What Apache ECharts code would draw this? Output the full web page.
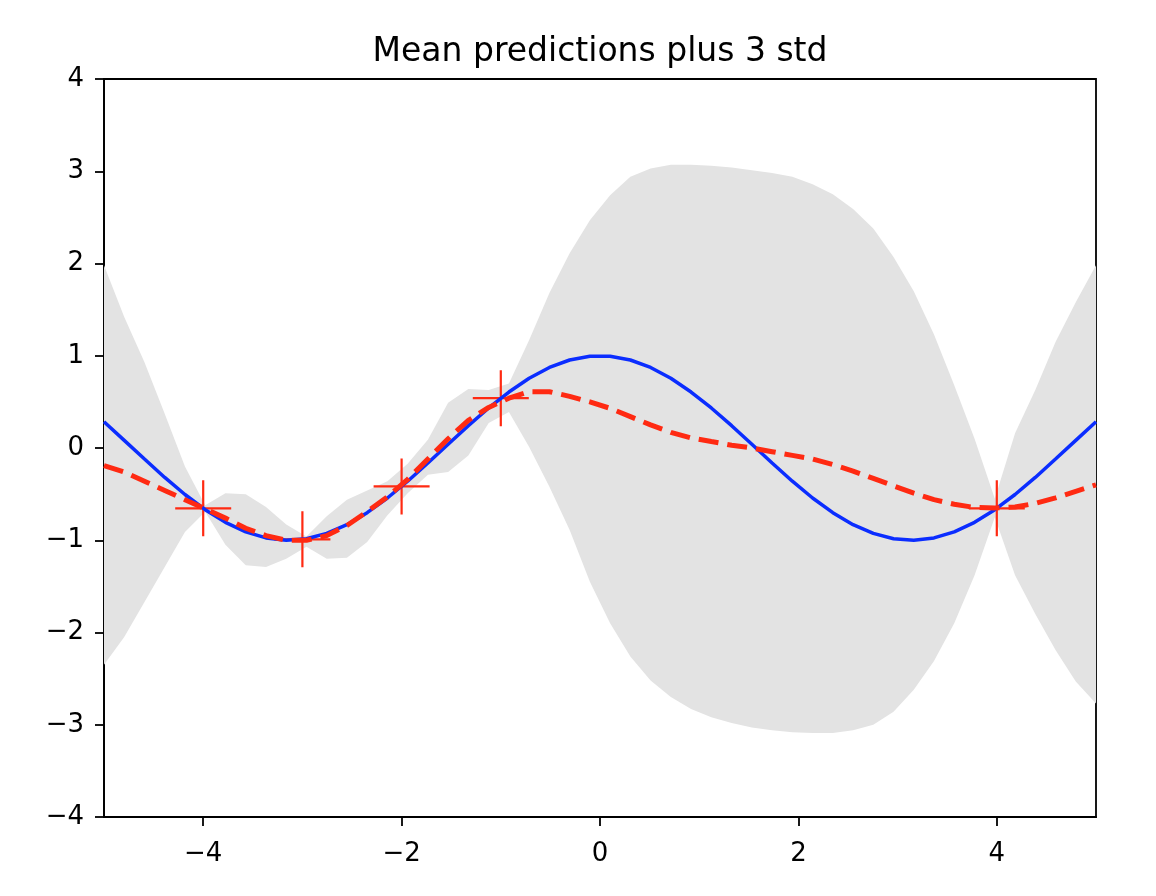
<!DOCTYPE html>
<html>
<head>
<meta charset="utf-8">
<script src="https://cdn.jsdelivr.net/npm/echarts@6/dist/echarts.min.js"></script>
<style>
html,body{margin:0;padding:0;background:#fff;}
#chart{width:1156px;height:896px;}
</style>
</head>
<body>
<div id="chart"></div>
<script>
// Sample grid along x
var xs = [-5.000, -4.796, -4.592, -4.388, -4.184, -3.980, -3.776, -3.571, -3.367, -3.163,
          -2.959, -2.755, -2.551, -2.347, -2.143, -1.939, -1.735, -1.531, -1.327, -1.122,
          -0.918, -0.714, -0.510, -0.306, -0.102, 0.102, 0.306, 0.510, 0.714, 0.918,
          1.122, 1.327, 1.531, 1.735, 1.939, 2.143, 2.347, 2.551, 2.755, 2.959,
          3.163, 3.367, 3.571, 3.776, 3.980, 4.184, 4.388, 4.592, 4.796, 5.000];
// True function (blue)
var trueY = [0.284, 0.083, -0.120, -0.319, -0.504, -0.669, -0.806, -0.909, -0.975, -1.000,
             -0.983, -0.926, -0.831, -0.701, -0.542, -0.360, -0.163, 0.040, 0.242, 0.434,
             0.607, 0.756, 0.873, 0.954, 0.995, 0.995, 0.954, 0.873, 0.756, 0.607,
             0.434, 0.242, 0.040, -0.163, -0.360, -0.542, -0.701, -0.831, -0.926, -0.983,
             -1.000, -0.975, -0.909, -0.806, -0.669, -0.504, -0.319, -0.120, 0.083, 0.284];
// Mean prediction (red dashed)
var meanY = [-0.19, -0.26, -0.36, -0.46, -0.56, -0.66, -0.76, -0.87, -0.95, -1.00,
             -1.00, -0.95, -0.84, -0.69, -0.53, -0.34, -0.12, 0.10, 0.30, 0.44,
             0.54, 0.61, 0.61, 0.56, 0.50, 0.43, 0.34, 0.25, 0.17, 0.11,
             0.07, 0.03, 0.00, -0.04, -0.08, -0.12, -0.18, -0.25, -0.33, -0.41,
             -0.49, -0.56, -0.61, -0.645, -0.65, -0.64, -0.60, -0.54, -0.47, -0.40];
// Band upper (mean + 3 std)
var upperY = [1.98, 1.42, 0.93, 0.37, -0.20, -0.62, -0.49, -0.50, -0.64, -0.83,
              -0.96, -0.74, -0.56, -0.46, -0.36, -0.17, 0.09, 0.49, 0.64, 0.63,
              0.70, 1.17, 1.68, 2.11, 2.47, 2.74, 2.94, 3.03, 3.07, 3.07,
              3.06, 3.04, 3.01, 2.98, 2.94, 2.86, 2.75, 2.59, 2.38, 2.07,
              1.70, 1.23, 0.68, 0.10, -0.55, 0.16, 0.63, 1.15, 1.58, 1.98];
// Band lower (mean - 3 std)
var lowerY = [-2.35, -2.05, -1.67, -1.29, -0.91, -0.69, -1.05, -1.27, -1.29, -1.20,
              -1.07, -1.20, -1.19, -1.02, -0.73, -0.49, -0.29, -0.26, -0.08, 0.27,
              0.39, 0.01, -0.42, -0.89, -1.45, -1.90, -2.26, -2.52, -2.70, -2.83,
              -2.92, -2.98, -3.03, -3.06, -3.08, -3.09, -3.09, -3.06, -3.00, -2.86,
              -2.62, -2.31, -1.90, -1.38, -0.75, -1.38, -1.80, -2.19, -2.53, -2.77];
// Observations (red +)
var obsX = [-4, -3, -2, -1, 4];
var obsY = [-0.654, -0.990, -0.416, 0.540, -0.654];
// Tick values
var xTicks = [-4, -2, 0, 2, 4];
var yTicks = [-4, -3, -2, -1, 0, 1, 2, 3, 4];
var titleText = 'Mean predictions plus 3 std';

var RED = '#ff2a12';
var BLUE = '#0b2dff';
var GRAY = '#e3e3e3';
var FONT = 'DejaVu Sans';

function fmt(v) { return String(v).replace('-', '\u2212'); }
function pairs(ys) { return xs.map(function (x, i) { return [x, ys[i]]; }); }

var axisLineStyle = {color: '#000', width: 1.8};

var chart = echarts.init(document.getElementById('chart'), null, {renderer: 'canvas'});
var option = {
  animation: false,
  backgroundColor: '#fff',
  title: {
    text: titleText,
    left: 600,
    textAlign: 'center',
    top: 36,
    padding: 0,
    textStyle: {fontFamily: FONT, fontSize: 33, fontWeight: 'normal', color: '#000'}
  },
  grid: {
    left: 104, right: 60, top: 79, bottom: 79,
    show: true, borderColor: '#000', borderWidth: 1.8, backgroundColor: 'transparent'
  },
  xAxis: {
    type: 'value', min: -5, max: 5,
    axisLine: {show: true, onZero: false, lineStyle: axisLineStyle},
    splitLine: {show: false},
    axisTick: {show: true, customValues: xTicks, length: 9, lineStyle: axisLineStyle},
    axisLabel: {
      customValues: xTicks, margin: 24, color: '#000', fontFamily: FONT, fontSize: 26,
      formatter: fmt
    }
  },
  yAxis: {
    type: 'value', min: -4, max: 4, interval: 1,
    axisLine: {show: true, onZero: false, lineStyle: axisLineStyle},
    splitLine: {show: false},
    axisTick: {show: true, customValues: yTicks, length: 9, lineStyle: axisLineStyle},
    axisLabel: {
      customValues: yTicks, margin: 20, color: '#000', fontFamily: FONT, fontSize: 26,
      formatter: fmt
    }
  },
  series: [
    {
      type: 'custom',
      name: 'band',
      z: 1,
      silent: true,
      data: [0],
      clip: true,
      renderItem: function (params, api) {
        var pts = [];
        for (var i = 0; i < xs.length; i++) pts.push(api.coord([xs[i], upperY[i]]));
        for (var j = xs.length - 1; j >= 0; j--) pts.push(api.coord([xs[j], lowerY[j]]));
        return {
          type: 'polygon',
          shape: {points: pts},
          style: {fill: GRAY, stroke: null}
        };
      }
    },
    {
      type: 'scatter',
      name: 'observations',
      z: 3,
      data: obsX.map(function (x, i) { return [x, obsY[i]]; }),
      symbol: 'path://M-1.1,-28h2.2v56h-2.2z M-28,-1.1h56v2.2h-56z',
      symbolSize: 56,
      itemStyle: {color: RED, opacity: 1}
    },
    {
      type: 'line',
      name: 'f(x)',
      z: 4,
      data: pairs(trueY),
      showSymbol: false,
      symbol: 'none',
      lineStyle: {color: BLUE, width: 3.5}
    },
    {
      type: 'line',
      name: 'mean',
      z: 5,
      data: pairs(meanY),
      showSymbol: false,
      symbol: 'none',
      lineStyle: {color: RED, width: 5, type: [20, 9]}
    }
  ]
};
chart.setOption(option);
</script>
</body>
</html>
